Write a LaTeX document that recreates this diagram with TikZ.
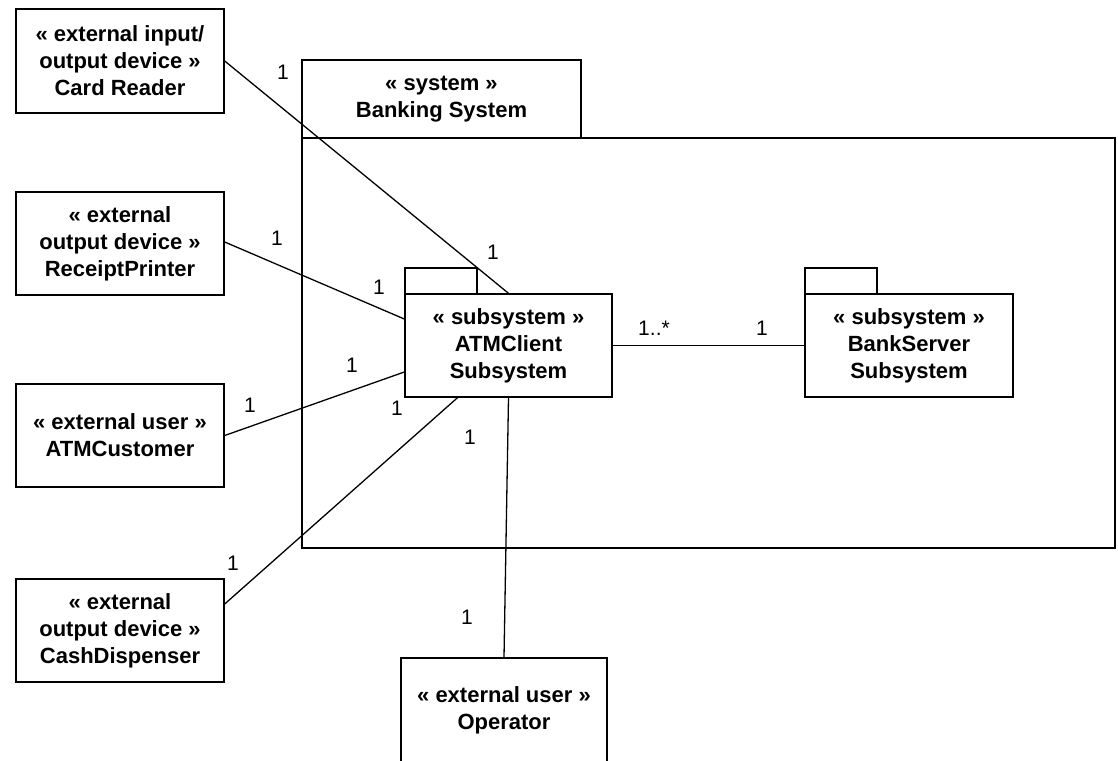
\documentclass[tikz,border=0pt]{standalone}
\usepackage{fontspec}
\setmainfont{Liberation Sans}
\begin{document}
\begin{tikzpicture}[x=1pt,y=-1pt,
  box/.style={draw,line width=1.4pt,rectangle,inner sep=0pt,align=center,
    font=\bfseries\fontsize{22}{27}\selectfont},
  tabbox/.style={draw,line width=1.4pt,rectangle,inner sep=0pt},
  mult/.style={inner sep=0pt,font=\fontsize{21}{25}\selectfont},
  conn/.style={line width=1.3pt}]
\useasboundingbox (0,0) rectangle (1118,760);
\clip (0,0) rectangle (1118,760);
% system package
\node[tabbox,minimum width=813pt,minimum height=410pt] (sysbody) at (708.5,343) {};
\node[box,minimum width=279pt,minimum height=78pt] (systab) at (441.5,99) {« system »\\Banking System};
% subsystems
\node[tabbox,minimum width=72pt,minimum height=26pt] (atmtab) at (441,281) {};
\node[box,fill=white,minimum width=207pt,minimum height=103pt] (atm) at (508.5,345.5) {« subsystem »\\ATMClient\\Subsystem};
\node[tabbox,minimum width=72pt,minimum height=26pt] (banktab) at (841,281) {};
\node[box,fill=white,minimum width=208pt,minimum height=103pt] (bank) at (909,345.5) {« subsystem »\\BankServer\\Subsystem};
% external boxes
\node[box,minimum width=208pt,minimum height=104pt] (crd) at (120,61) {« external input/\\output device »\\Card Reader};
\node[box,minimum width=208pt,minimum height=103pt] (rcp) at (120,243.5) {« external\\output device »\\ReceiptPrinter};
\node[box,minimum width=208pt,minimum height=103pt] (cus) at (120,435.5) {« external user »\\ATMCustomer};
\node[box,minimum width=208pt,minimum height=103pt] (cash) at (120,630.5) {« external\\output device »\\CashDispenser};
\node[box,minimum width=206pt,minimum height=104pt] (op) at (504,710) {« external user »\\Operator};
% connectors
\draw[conn] (crd.east) -- (atm.north);
\draw[conn] ([yshift=1.5pt]rcp.east) -- ([yshift=26.5pt]atm.west);
\draw[conn] (cus.east) -- ([yshift=-26.5pt]atm.west);
\draw[conn] ([yshift=26.5pt]cash.east) -- ([xshift=-51pt]atm.south);
\draw[conn] (atm.south) -- (op.north);
\draw[conn] (atm.east) -- (bank.west);
% multiplicities
\node[mult] (m1) at (283,72) {1};
\node[mult] (m2) at (493,252) {1};
\node[mult] (m3) at (277,238) {1};
\node[mult] (m4) at (379,287) {1};
\node[mult] (m5) at (250,405) {1};
\node[mult] (m6) at (352,365) {1};
\node[mult] (m7) at (233,563) {1};
\node[mult] (m8) at (397,408) {1};
\node[mult] (m9) at (470,437) {1};
\node[mult] (m10) at (467,617) {1};
\node[mult] (m11) at (654,328) {1..*};
\node[mult] (m12) at (762,328) {1};
\end{tikzpicture}
\end{document}
